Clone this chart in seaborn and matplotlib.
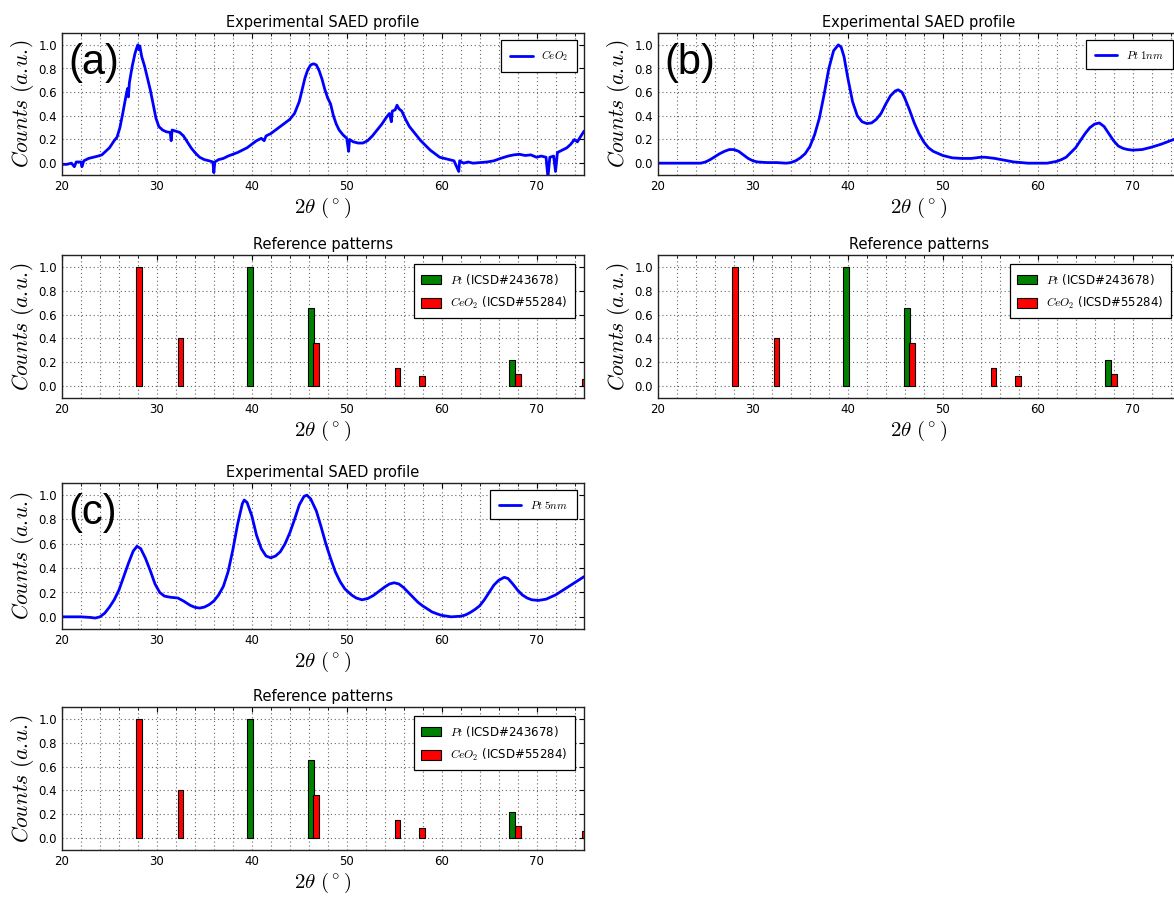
import matplotlib
matplotlib.use("Agg")
import matplotlib.pyplot as plt
from matplotlib.ticker import MultipleLocator, FormatStrFormatter
import seaborn as sns

# experimental SAED profiles
ceo2_x = [20.0, 20.5, 21.0, 21.3, 21.5, 22.0, 22.1, 22.3, 22.8, 23.3, 23.8, 24.2, 24.6,
          25.0, 25.5, 25.8, 26.1, 26.4, 26.7, 26.9, 27.0, 27.1, 27.4, 27.7, 27.9, 28.0,
          28.1, 28.2, 28.4, 28.7, 29.0, 29.3, 29.6, 29.9, 30.2, 30.6, 31.0, 31.4, 31.5,
          31.6, 32.0, 32.4, 32.8, 33.2, 33.6, 34.0, 34.5, 35.0, 35.5, 35.9, 36.0, 36.1,
          36.5, 37.0, 37.5, 38.0, 38.5, 39.0, 39.5, 40.0, 40.5, 41.0, 41.3, 41.5, 42.0,
          42.5, 43.0, 43.5, 44.0, 44.5, 45.0, 45.3, 45.6, 45.9, 46.2, 46.5, 46.8, 47.1,
          47.4, 47.7, 48.0, 48.3, 48.6, 48.9, 49.2, 49.6, 50.0, 50.2, 50.3, 50.7, 51.2,
          51.7, 52.2, 52.7, 53.2, 53.7, 54.2, 54.5, 54.7, 54.8, 55.1, 55.3, 55.5, 55.8,
          56.2, 56.6, 57.0, 57.4, 57.8, 58.3, 58.8, 59.3, 59.8, 60.3, 60.8, 61.3, 61.8,
          61.9, 62.3, 62.8, 63.3, 64.0, 64.8, 65.5, 66.2, 67.0, 67.6, 68.2, 68.8, 69.4,
          70.0, 70.5, 71.0, 71.2, 71.4, 71.8, 72.0, 72.2, 72.7, 73.2, 73.6, 74.0, 74.3,
          74.6, 75.0]
ceo2_y = [-0.01, -0.01, 0.0, -0.03, 0.01, 0.01, -0.03, 0.02, 0.04, 0.05, 0.06, 0.07, 0.10,
          0.13, 0.19, 0.22, 0.30, 0.42, 0.55, 0.63, 0.56, 0.68, 0.82, 0.93, 0.98, 1.0,
          0.96, 0.99, 0.90, 0.82, 0.72, 0.62, 0.50, 0.38, 0.31, 0.28, 0.265, 0.26, 0.19,
          0.28, 0.27, 0.26, 0.23, 0.18, 0.13, 0.09, 0.05, 0.03, 0.02, 0.01, -0.08, 0.01,
          0.03, 0.04, 0.06, 0.075, 0.09, 0.11, 0.13, 0.16, 0.19, 0.21, 0.19, 0.23, 0.25,
          0.28, 0.31, 0.34, 0.37, 0.42, 0.52, 0.62, 0.72, 0.79, 0.83, 0.84, 0.83, 0.78,
          0.71, 0.62, 0.55, 0.50, 0.40, 0.33, 0.28, 0.24, 0.21, 0.10, 0.20, 0.18, 0.17,
          0.17, 0.19, 0.23, 0.28, 0.33, 0.39, 0.42, 0.35, 0.44, 0.45, 0.49, 0.46, 0.44,
          0.37, 0.31, 0.27, 0.23, 0.19, 0.15, 0.11, 0.08, 0.05, 0.04, 0.03, 0.02, -0.07,
          0.02, 0.0, 0.01, 0.0, 0.005, 0.01, 0.02, 0.04, 0.06, 0.07, 0.075, 0.065, 0.07,
          0.05, 0.06, 0.05, -0.12, 0.05, 0.06, -0.07, 0.09, 0.11, 0.13, 0.16, 0.20, 0.18,
          0.22, 0.27]

pt1_x = [20.0, 22.0, 24.5, 25.0, 25.5, 26.0, 26.5, 27.0, 27.5, 28.0, 28.5, 29.0, 29.5,
         30.0, 30.5, 31.5, 32.5, 33.5, 34.0, 34.5, 35.0, 35.5, 36.0, 36.5, 37.0, 37.5,
         38.0, 38.5, 39.0, 39.3, 39.6, 40.0, 40.5, 41.0, 41.5, 42.0, 42.5, 43.0, 43.5,
         44.0, 44.5, 45.0, 45.3, 45.7, 46.0, 46.5, 47.0, 47.5, 48.0, 48.5, 49.0, 50.0,
         51.0, 52.0, 53.0, 54.0, 54.5, 55.5, 56.5, 57.5, 59.0, 60.0, 61.0, 62.0, 62.5,
         63.0, 63.5, 64.0, 64.5, 65.0, 65.5, 66.0, 66.5, 67.0, 67.5, 68.0, 68.5, 69.0,
         69.5, 70.0, 71.0, 72.0, 73.0, 74.0, 75.0]
pt1_y = [0.0, 0.0, 0.0, 0.01, 0.03, 0.055, 0.08, 0.10, 0.115, 0.115, 0.10, 0.07, 0.04,
         0.02, 0.01, 0.005, 0.005, 0.0, 0.005, 0.02, 0.045, 0.08, 0.14, 0.24, 0.38, 0.58,
         0.80, 0.95, 1.0, 0.98, 0.90, 0.72, 0.52, 0.40, 0.35, 0.335, 0.34, 0.37, 0.42,
         0.50, 0.57, 0.61, 0.62, 0.60, 0.55, 0.45, 0.34, 0.25, 0.18, 0.13, 0.10, 0.065,
         0.045, 0.04, 0.04, 0.05, 0.05, 0.04, 0.025, 0.01, 0.0, 0.0, 0.0, 0.015, 0.03,
         0.05, 0.09, 0.13, 0.19, 0.25, 0.30, 0.33, 0.34, 0.31, 0.25, 0.19, 0.145, 0.125,
         0.115, 0.11, 0.115, 0.135, 0.16, 0.19, 0.22]

pt5_x = [20.0, 22.0, 23.0, 23.5, 24.0, 24.5, 25.0, 25.5, 26.0, 26.5, 27.0, 27.5, 27.9,
         28.3, 28.8, 29.3, 29.8, 30.3, 30.8, 31.5, 32.2, 32.8, 33.5, 34.0, 34.5, 35.0,
         35.5, 36.0, 36.5, 37.0, 37.5, 38.0, 38.5, 39.0, 39.2, 39.5, 40.0, 40.5, 41.0,
         41.5, 42.0, 42.5, 43.0, 43.5, 44.0, 44.5, 45.0, 45.5, 45.8, 46.2, 46.8, 47.3,
         47.8, 48.3, 48.8, 49.3, 49.8, 50.5, 51.0, 51.6, 52.2, 52.8, 53.4, 54.0, 54.5,
         55.0, 55.5, 56.0, 56.5, 57.0, 57.5, 58.0, 58.5, 59.0, 59.5, 60.0, 61.0, 62.0,
         62.5, 63.0, 63.5, 64.0, 64.5, 65.0, 65.5, 66.0, 66.6, 67.0, 67.5, 68.0, 68.5,
         69.0, 69.5, 70.2, 71.0, 72.0, 73.0, 74.0, 75.0]
pt5_y = [0.0, 0.0, -0.005, -0.01, 0.0, 0.03, 0.08, 0.14, 0.22, 0.33, 0.44, 0.54, 0.58,
         0.56, 0.48, 0.38, 0.27, 0.20, 0.17, 0.16, 0.155, 0.13, 0.095, 0.078, 0.072, 0.08,
         0.10, 0.13, 0.18, 0.25, 0.37, 0.55, 0.76, 0.93, 0.96, 0.94, 0.83, 0.67, 0.56,
         0.50, 0.485, 0.50, 0.535, 0.60, 0.69, 0.80, 0.92, 0.99, 1.0, 0.97, 0.87, 0.74,
         0.60, 0.48, 0.37, 0.29, 0.23, 0.18, 0.155, 0.14, 0.15, 0.175, 0.21, 0.245, 0.27,
         0.28, 0.27, 0.24, 0.20, 0.16, 0.12, 0.09, 0.065, 0.04, 0.025, 0.012, 0.0, 0.005,
         0.015, 0.035, 0.06, 0.09, 0.14, 0.20, 0.26, 0.30, 0.325, 0.315, 0.27, 0.22, 0.18,
         0.155, 0.14, 0.135, 0.145, 0.18, 0.23, 0.28, 0.33]

# reference patterns
pt_pos = [39.8, 46.2, 67.45]
pt_int = [1.0, 0.655, 0.217]
ceo2_pos = [28.1, 32.5, 46.75, 55.35, 57.95, 68.05, 75.05]
ceo2_int = [1.0, 0.40, 0.363, 0.149, 0.085, 0.10, 0.056]

panels = [
    ("(a)", ceo2_x, ceo2_y, r"$CeO_2$", 62, 33, 255),
    ("(b)", pt1_x, pt1_y, r"$Pt\ 1nm$", 658, 33, 255),
    ("(c)", pt5_x, pt5_y, r"$Pt\ 5nm$", 62, 483, 707),
]

W, H = 1174, 898


def style_axes(ax):
    ax.set_xlim(20, 75)
    ax.set_ylim(-0.1, 1.1)
    ax.xaxis.set_major_locator(MultipleLocator(10))
    ax.xaxis.set_minor_locator(MultipleLocator(2))
    ax.yaxis.set_major_locator(MultipleLocator(0.2))
    ax.yaxis.set_major_formatter(FormatStrFormatter("%.1f"))
    ax.tick_params(which="both", direction="in", top=True, right=True, labelsize=8.5,
                   colors="k")
    ax.tick_params(which="major", length=3.5, width=0.8)
    ax.tick_params(which="minor", length=2, width=0.6)
    ax.grid(True, which="both", axis="x", linestyle=(0, (1, 2.5)), color="#666666",
            linewidth=0.8)
    ax.grid(True, which="major", axis="y", linestyle=(0, (1, 2.5)), color="#666666",
            linewidth=0.8)
    for s in ax.spines.values():
        s.set_color("#222222")
        s.set_linewidth(1.0)
    ax.set_xlabel(r"$2\theta\ (^\circ)$", fontsize=15, labelpad=2)
    ax.set_ylabel(r"$Counts\ (a.\!u.\!)$", fontsize=15.5, labelpad=2)


def add_axes(fig, left_px, top_px, h_px, w_px=522):
    return fig.add_axes([left_px / W, 1 - (top_px + h_px) / H, w_px / W, h_px / H])


sns.set_style("white")
plt.rcParams["mathtext.fontset"] = "cm"
plt.rcParams["font.family"] = ["DejaVu Sans"]
plt.rcParams["text.color"] = "k"
plt.rcParams["axes.labelcolor"] = "k"

fig = plt.figure(figsize=(W / 100, H / 100), dpi=100)

for tag, xs, ys, lab, left, top1, top2 in panels:
    h1 = 146 if tag == "(c)" else 142
    ax = add_axes(fig, left, top1, h1)
    sns.lineplot(x=xs, y=ys, ax=ax, color="#0000ff", linewidth=2, label=lab, sort=False)
    style_axes(ax)
    ax.set_title("Experimental SAED profile", fontsize=10.5, pad=4, color="k")
    leg = ax.legend(loc="upper right", fontsize=8, fancybox=False, framealpha=1,
                    edgecolor="k", handlelength=2.0, borderpad=0.8, borderaxespad=0.6)
    leg.get_frame().set_linewidth(0.9)
    ax.text(0.012, 0.93, tag, transform=ax.transAxes, ha="left", va="top",
            fontsize=30, family="Liberation Sans", color="k")

    ax2 = add_axes(fig, left, top2, 143)
    ax2.bar(pt_pos, pt_int, width=0.6, color="#008000", edgecolor="k", linewidth=0.8,
            label=r"$Pt$ (ICSD#243678)", zorder=3)
    ax2.bar(ceo2_pos, ceo2_int, width=0.6, color="#ff0000", edgecolor="k", linewidth=0.8,
            label=r"$CeO_2$ (ICSD#55284)", zorder=3)
    style_axes(ax2)
    ax2.set_title("Reference patterns", fontsize=10.5, pad=4, color="k")
    leg2 = ax2.legend(loc="upper right", fontsize=8.5, fancybox=False, framealpha=1,
                      edgecolor="k", handlelength=1.7, handleheight=0.9, borderpad=0.6,
                      labelspacing=0.7, borderaxespad=0.8)
    leg2.get_frame().set_linewidth(0.9)

fig.savefig("out.png", dpi=100)
